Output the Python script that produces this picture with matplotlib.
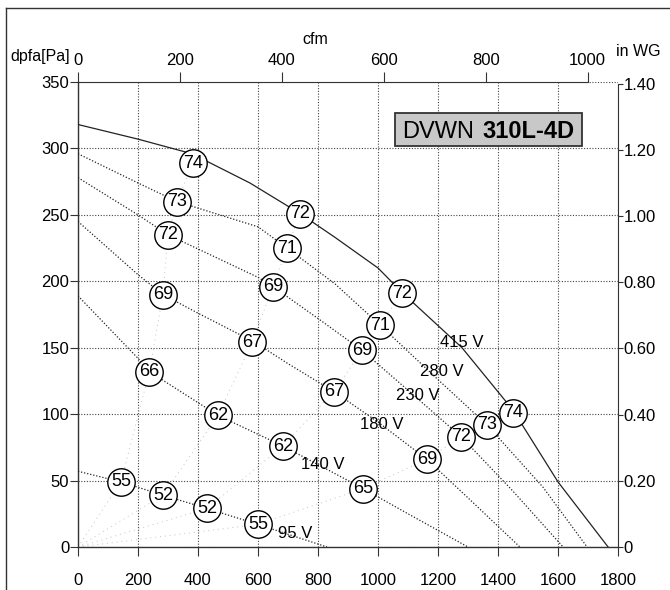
import matplotlib
matplotlib.use("Agg")
import matplotlib.pyplot as plt
from matplotlib.patches import Rectangle
from matplotlib.lines import Line2D

NARROW = ['Liberation Sans Narrow', 'Liberation Sans', 'DejaVu Sans']
REGULAR = ['Liberation Sans', 'Arial', 'DejaVu Sans']
plt.rcParams['font.family'] = NARROW

M3H_TO_CFM = 0.588578
PA_TO_INWG = 1 / 249.089

# fan curves, q in m3/h, dpfa in Pa
q_415 = [0, 200, 380, 573, 740, 857, 1000, 1083, 1280, 1450, 1600, 1767]
p_415 = [318, 307, 296, 274, 251, 233, 210, 191, 150, 103, 49, 0]
q_280 = [0, 200, 330, 600, 697, 857, 1007, 1200, 1363, 1550, 1697]
p_280 = [296, 274, 260, 241, 225, 198, 167, 126, 92, 45, 0]
q_230 = [0, 200, 300, 600, 650, 800, 947, 1100, 1277, 1450, 1617]
p_230 = [278, 250, 235, 203, 196, 172, 148, 118, 83, 42, 0]
q_180 = [0, 200, 283, 400, 590, 700, 853, 1000, 1163, 1300, 1473]
p_180 = [245, 205, 190, 176, 154, 138, 117, 94, 66, 37, 0]
q_140 = [0, 200, 238, 467, 683, 817, 950, 1100, 1300]
p_140 = [189, 142, 132, 99, 76, 60, 44, 25, 0]
q_95 = [0, 143, 283, 430, 600, 830]
p_95 = [57, 49, 39, 29, 17, 0]

# sound power levels dB(A) marked along each curve
snd_q_415 = [383, 740, 1080, 1450]
snd_p_415 = [289, 251, 191, 101]
snd_db_415 = [74, 72, 72, 74]
snd_q_280 = [330, 697, 1007, 1363]
snd_p_280 = [260, 225, 167, 92]
snd_db_280 = [73, 71, 71, 73]
snd_q_230 = [300, 650, 947, 1277]
snd_p_230 = [235, 196, 148, 83]
snd_db_230 = [72, 69, 69, 72]
snd_q_180 = [283, 580, 853, 1163]
snd_p_180 = [190, 154, 117, 66]
snd_db_180 = [69, 67, 67, 69]
snd_q_140 = [238, 467, 683, 950]
snd_p_140 = [132, 99, 76, 44]
snd_db_140 = [66, 62, 62, 65]
snd_q_95 = [143, 283, 430, 600]
snd_p_95 = [49, 39, 29, 17]
snd_db_95 = [55, 52, 52, 55]

volt_labels = ['415 V', '280 V', '230 V', '180 V', '140 V', '95 V']
volt_label_q = [1280, 1213, 1133, 1013, 817, 723]
volt_label_p = [154, 132, 114, 92, 62, 10]

fig = plt.figure(figsize=(6.7, 5.9), dpi=100)
W, H = 670.0, 590.0
ax = fig.add_axes([78 / W, 1 - 547 / H, 540 / W, 465 / H])
ax.set_xlim(0, 1800)
ax.set_ylim(0, 350)
ax.set_xticks(range(0, 1801, 200))
ax.set_yticks(range(0, 351, 50))
ax.grid(True, linestyle=(0, (1, 1.5)), color='#444444', lw=0.8)
ax.spines['top'].set_visible(False)
ax.spines['right'].set_visible(False)
for s in ['left', 'bottom']:
    ax.spines[s].set_color('#333333')
    ax.spines[s].set_linewidth(1.0)
ax.tick_params(axis='x', length=6.5, pad=12, labelsize=12, color='#333333')
ax.tick_params(axis='y', length=5.8, pad=0.5, labelsize=12, color='#333333')

# system resistance lines through the marked points (origin first)
snd_q = [snd_q_95, snd_q_140, snd_q_180, snd_q_230, snd_q_280, snd_q_415]
snd_p = [snd_p_95, snd_p_140, snd_p_180, snd_p_230, snd_p_280, snd_p_415]
snd_db = [snd_db_95, snd_db_140, snd_db_180, snd_db_230, snd_db_280, snd_db_415]
for i in range(4):
    xs = [0] + [row[i] for row in snd_q]
    ys = [0] + [row[i] for row in snd_p]
    ax.plot(xs, ys, color='#c4c4c4', lw=0.7, linestyle=(0, (1, 4)), zorder=2)

ax.plot(q_415, p_415, color='#222222', lw=0.9, zorder=3)
for q, p in [(q_280, p_280), (q_230, p_230), (q_180, p_180), (q_140, p_140), (q_95, p_95)]:
    ax.plot(q, p, color='#222222', lw=0.9, linestyle=(0, (1, 1.5)), zorder=3)

for qs, ps, dbs in zip(snd_q, snd_p, snd_db):
    ax.scatter(qs, ps, s=390, facecolor='white', edgecolor='black', lw=1.0, zorder=5)
    for q, p, db in zip(qs, ps, dbs):
        ax.text(q, p, str(db), ha='center', va='center', fontsize=13,
                family=REGULAR, zorder=6)

for lbl, q, p in zip(volt_labels, volt_label_q, volt_label_p):
    ax.text(q, p, lbl, ha='center', va='center', fontsize=12, family=REGULAR, zorder=4)

# secondary scales: cfm on top, in WG on the right
axt = ax.twiny()
axt.set_xlim(0, 1800 * M3H_TO_CFM)
axt.set_xticks(range(0, 1001, 200))
for s in ['left', 'right', 'bottom']:
    axt.spines[s].set_visible(False)
axt.spines['top'].set_bounds(0, 1000)
axt.spines['top'].set_color('#333333')
axt.tick_params(axis='x', length=7.2, pad=3, labelsize=12, color='#333333')

axr = ax.twinx()
axr.set_ylim(0, 350 * PA_TO_INWG)
wg_ticks = [0, 0.2, 0.4, 0.6, 0.8, 1.0, 1.2, 1.4]
axr.set_yticks(wg_ticks)
axr.set_yticklabels(['0'] + ['%.2f' % v for v in wg_ticks[1:]])
for s in ['left', 'top', 'bottom']:
    axr.spines[s].set_visible(False)
axr.spines['right'].set_bounds(0, 1.4)
axr.spines['right'].set_color('#333333')
axr.tick_params(axis='y', length=3.6, pad=0.5, labelsize=12, color='#333333')

fig.text(40 / W, 1 - 57 / H, 'dpfa[Pa]', ha='center', va='center', fontsize=11.5)
fig.text(315 / W, 1 - 40 / H, 'cfm', ha='center', va='center', fontsize=11.5)
fig.text(638 / W, 1 - 52 / H, 'in WG', ha='center', va='center', fontsize=11.5)

# type plate
fig.add_artist(Rectangle((395 / W, 1 - 146 / H), 187 / W, 33 / H, transform=fig.transFigure,
                         facecolor='#c8c8c8', edgecolor='#333333', lw=1.3))
fig.text(402 / W, 1 - 138 / H, 'DVWN', ha='left', va='baseline', fontsize=17, family=REGULAR)
fig.text(575 / W, 1 - 138 / H, '310L-4D', ha='right', va='baseline', fontsize=17,
         family=REGULAR, weight='bold')

# outer frame
fig.add_artist(Line2D([6 / W, 1], [1 - 8 / H, 1 - 8 / H], color='#333333', lw=1.0))
fig.add_artist(Line2D([6 / W, 6 / W], [0, 1 - 8 / H], color='#333333', lw=1.0))

fig.savefig('out.png', dpi=100)
